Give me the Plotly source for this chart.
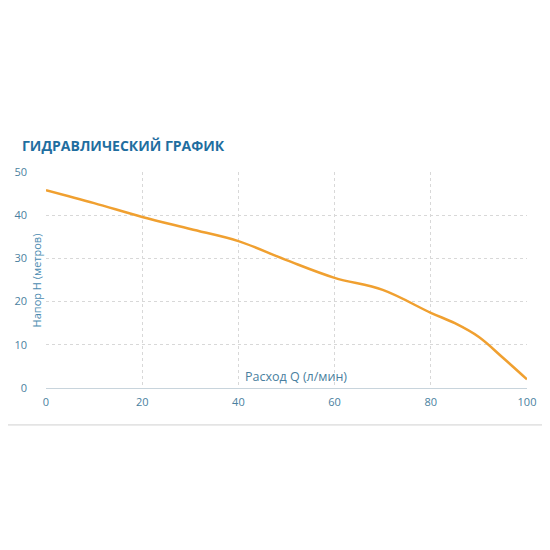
import plotly.graph_objects as go

# Данные кривой
rashod = [0, 10, 20, 30, 40, 50, 60, 70, 80, 85, 90, 95, 100]
napor = [45.8, 42.8, 39.6, 36.8, 34.0, 29.6, 25.5, 22.7, 17.4, 15.0, 11.8, 7.0, 2.0]

x_ticks = [0, 20, 40, 60, 80, 100]
y_ticks = [0, 10, 20, 30, 40, 50]

fig = go.Figure()

fig.add_trace(go.Scatter(
    x=rashod, y=napor, mode='lines',
    line=dict(color='#f0a030', width=2.5, shape='spline'),
    hoverinfo='x+y', showlegend=False
))

fig.update_layout(
    width=550, height=550,
    paper_bgcolor='white', plot_bgcolor='white',
    margin=dict(l=38, r=31, t=164, b=170),
    font=dict(family='Open Sans', color='#4a7fa0', size=11),
    xaxis=dict(range=[0, 100], tickvals=x_ticks, showgrid=True,
               gridcolor='#d8d8d8', griddash='dot', zeroline=False,
               showline=True, linecolor='#c8d4dc', ticks='', automargin=False,
               ticklabelstandoff=4,
               tickfont=dict(color='#4a7fa0', size=11)),
    yaxis=dict(range=[0, 50], tickvals=y_ticks, showgrid=True,
               gridcolor='#d8d8d8', griddash='dot', zeroline=False,
               showline=False, ticks='', ticklabelstandoff=18, automargin=False,
               tickfont=dict(color='#4a7fa0', size=11)),
    annotations=[
        dict(text='<b>ГИДРАВЛИЧЕСКИЙ ГРАФИК</b>', xref='paper', yref='paper',
             x=-0.055, y=1.125, xanchor='left', yanchor='middle', showarrow=False,
             font=dict(size=14, color='#1f6ea0', family='Open Sans')),
        dict(text='Напор H (метров)', xref='paper', yref='paper',
             x=-0.02, y=0.5, textangle=-90, xanchor='center', yanchor='middle',
             showarrow=False, font=dict(size=11, color='#4a8ab0')),
        dict(text='Расход Q (л/мин)', xref='x', yref='y',
             x=63, y=0.3, xanchor='right', yanchor='bottom',
             showarrow=False, font=dict(size=12.5, color='#4a7fa0')),
    ],
    shapes=[dict(type='line', xref='paper', yref='paper',
                 x0=-0.2, x1=1.2, y0=-0.171, y1=-0.171,
                 line=dict(color='#d0d0d0', width=1))],
)

fig.write_html('out.html')
